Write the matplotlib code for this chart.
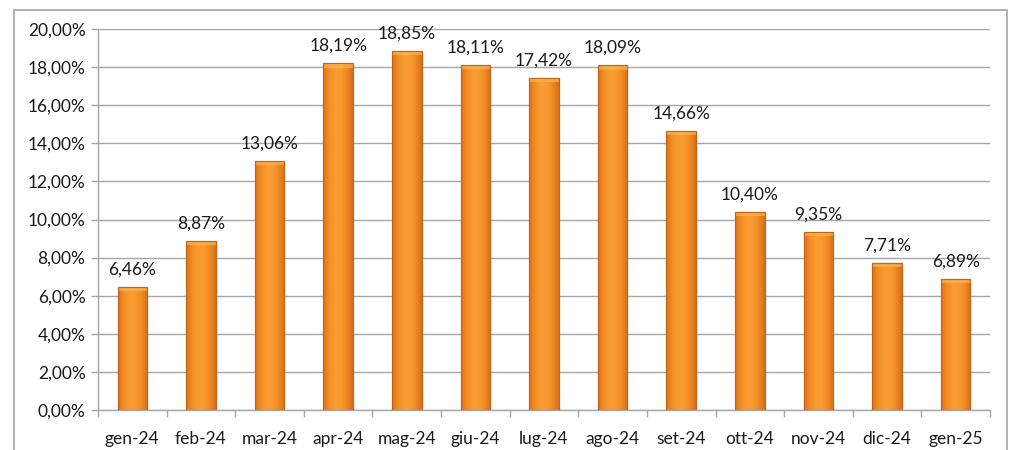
import matplotlib
matplotlib.use("Agg")
import matplotlib.pyplot as plt
import numpy as np
from matplotlib.colors import LinearSegmentedColormap
from matplotlib.patches import Rectangle
from matplotlib.ticker import FuncFormatter

months = ["gen-24", "feb-24", "mar-24", "apr-24", "mag-24", "giu-24", "lug-24",
          "ago-24", "set-24", "ott-24", "nov-24", "dic-24", "gen-25"]
values = [6.46, 8.87, 13.06, 18.19, 18.85, 18.11, 17.42, 18.09, 14.66, 10.40, 9.35, 7.71, 6.89]
value_labels = ["6,46%", "8,87%", "13,06%", "18,19%", "18,85%", "18,11%", "17,42%",
                "18,09%", "14,66%", "10,40%", "9,35%", "7,71%", "6,89%"]

plt.rcParams["font.family"] = ["Lato", "DejaVu Sans"]

fig = plt.figure(figsize=(10.19, 4.5), dpi=100)
ax = fig.add_axes([98 / 1019, 1 - 410 / 450, (990 - 98) / 1019, (410 - 29) / 450])

# outer frame of the chart area
fig.patches.append(Rectangle((14 / 1019, -0.05), (1007 - 14) / 1019, 1 - 10 / 450 + 0.05,
                             transform=fig.transFigure, fill=False,
                             edgecolor="#A6A6A6", linewidth=1.2, zorder=0))

x = np.arange(len(months))
bar_w = 0.43

# horizontal orange gradient for each bar body
grad = LinearSegmentedColormap.from_list(
    "bar", ["#DC7419", "#F28E25", "#F99C32", "#F99A30", "#EF8A23", "#D6701A"])
g = np.linspace(0, 1, 64).reshape(1, -1)

bars = ax.bar(x, values, width=bar_w, color="#F7941D", edgecolor="#C0641C",
              linewidth=0.8, zorder=3)
for rect in bars:
    x0, w, h = rect.get_x(), rect.get_width(), rect.get_height()
    im = ax.imshow(g, cmap=grad, aspect="auto", extent=(x0, x0 + w, 0, h),
                   zorder=3.5, interpolation="bilinear")
    im.set_clip_path(rect)
    # light cap at the top of the bar
    ax.add_patch(Rectangle((x0, h - 0.22), w, 0.22, facecolor="#FCBB58",
                           edgecolor="none", alpha=0.6, zorder=3.6))
    ax.add_patch(Rectangle((x0, 0), w, h, fill=False, edgecolor="#C0641C",
                           linewidth=0.8, zorder=3.7))

for xi, v, lab in zip(x, values, value_labels):
    ax.text(xi, v + 0.5, lab, ha="center", va="bottom", fontsize=12.5,
            color="#1a1a1a", zorder=5)

ax.set_xlim(-0.5, len(months) - 0.5)
ax.set_ylim(0, 20)
ax.set_yticks(np.arange(0, 20.01, 2))
ax.yaxis.set_major_formatter(FuncFormatter(lambda v, p: f"{v:.2f}%".replace(".", ",")))
ax.set_xticks(x)
ax.set_xticklabels(months)
ax.set_xticks(np.arange(-0.5, len(months), 1), minor=True)

ax.grid(axis="y", color="#A6A6A6", linewidth=1.0, zorder=0)
ax.set_axisbelow(True)
for s in ["top", "right"]:
    ax.spines[s].set_visible(False)
for s in ["left", "bottom"]:
    ax.spines[s].set_color("#A6A6A6")
    ax.spines[s].set_linewidth(1.0)

ax.tick_params(axis="y", length=5, width=1.0, color="#A6A6A6", labelsize=12.5,
               labelcolor="#1a1a1a", pad=4)
ax.tick_params(axis="x", which="major", length=0, labelsize=12.5,
               labelcolor="#1a1a1a", pad=15)
ax.tick_params(axis="x", which="minor", length=5, width=1.0, color="#A6A6A6")

fig.savefig("out.png", dpi=100)
